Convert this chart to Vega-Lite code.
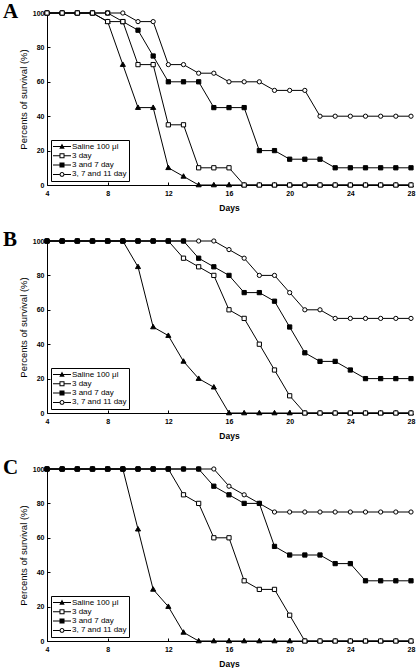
{
  "$schema": "https://vega.github.io/schema/vega-lite/v6.json",
  "background": "white",
  "padding": {"left": 3, "top": 0, "right": 1, "bottom": 1},
  "spacing": 16,
  "datasets": {
    "A": [
      {"day": 4, "Saline 100 μl": 100, "3 day": 100, "3 and 7 day": 100, "3, 7 and 11 day": 100},
      {"day": 5, "Saline 100 μl": 100, "3 day": 100, "3 and 7 day": 100, "3, 7 and 11 day": 100},
      {"day": 6, "Saline 100 μl": 100, "3 day": 100, "3 and 7 day": 100, "3, 7 and 11 day": 100},
      {"day": 7, "Saline 100 μl": 100, "3 day": 100, "3 and 7 day": 100, "3, 7 and 11 day": 100},
      {"day": 8, "Saline 100 μl": 95, "3 day": 95, "3 and 7 day": 100, "3, 7 and 11 day": 100},
      {"day": 9, "Saline 100 μl": 70, "3 day": 95, "3 and 7 day": 95, "3, 7 and 11 day": 100},
      {"day": 10, "Saline 100 μl": 45, "3 day": 70, "3 and 7 day": 90, "3, 7 and 11 day": 95},
      {"day": 11, "Saline 100 μl": 45, "3 day": 70, "3 and 7 day": 75, "3, 7 and 11 day": 95},
      {"day": 12, "Saline 100 μl": 10, "3 day": 35, "3 and 7 day": 60, "3, 7 and 11 day": 70},
      {"day": 13, "Saline 100 μl": 5, "3 day": 35, "3 and 7 day": 60, "3, 7 and 11 day": 70},
      {"day": 14, "Saline 100 μl": 0, "3 day": 10, "3 and 7 day": 60, "3, 7 and 11 day": 65},
      {"day": 15, "Saline 100 μl": 0, "3 day": 10, "3 and 7 day": 45, "3, 7 and 11 day": 65},
      {"day": 16, "Saline 100 μl": 0, "3 day": 10, "3 and 7 day": 45, "3, 7 and 11 day": 60},
      {"day": 17, "Saline 100 μl": 0, "3 day": 0, "3 and 7 day": 45, "3, 7 and 11 day": 60},
      {"day": 18, "Saline 100 μl": 0, "3 day": 0, "3 and 7 day": 20, "3, 7 and 11 day": 60},
      {"day": 19, "Saline 100 μl": 0, "3 day": 0, "3 and 7 day": 20, "3, 7 and 11 day": 55},
      {"day": 20, "Saline 100 μl": 0, "3 day": 0, "3 and 7 day": 15, "3, 7 and 11 day": 55},
      {"day": 21, "Saline 100 μl": 0, "3 day": 0, "3 and 7 day": 15, "3, 7 and 11 day": 55},
      {"day": 22, "Saline 100 μl": 0, "3 day": 0, "3 and 7 day": 15, "3, 7 and 11 day": 40},
      {"day": 23, "Saline 100 μl": 0, "3 day": 0, "3 and 7 day": 10, "3, 7 and 11 day": 40},
      {"day": 24, "Saline 100 μl": 0, "3 day": 0, "3 and 7 day": 10, "3, 7 and 11 day": 40},
      {"day": 25, "Saline 100 μl": 0, "3 day": 0, "3 and 7 day": 10, "3, 7 and 11 day": 40},
      {"day": 26, "Saline 100 μl": 0, "3 day": 0, "3 and 7 day": 10, "3, 7 and 11 day": 40},
      {"day": 27, "Saline 100 μl": 0, "3 day": 0, "3 and 7 day": 10, "3, 7 and 11 day": 40},
      {"day": 28, "Saline 100 μl": 0, "3 day": 0, "3 and 7 day": 10, "3, 7 and 11 day": 40}
    ],
    "B": [
      {"day": 4, "Saline 100 μl": 100, "3 day": 100, "3 and 7 day": 100, "3, 7 and 11 day": 100},
      {"day": 5, "Saline 100 μl": 100, "3 day": 100, "3 and 7 day": 100, "3, 7 and 11 day": 100},
      {"day": 6, "Saline 100 μl": 100, "3 day": 100, "3 and 7 day": 100, "3, 7 and 11 day": 100},
      {"day": 7, "Saline 100 μl": 100, "3 day": 100, "3 and 7 day": 100, "3, 7 and 11 day": 100},
      {"day": 8, "Saline 100 μl": 100, "3 day": 100, "3 and 7 day": 100, "3, 7 and 11 day": 100},
      {"day": 9, "Saline 100 μl": 100, "3 day": 100, "3 and 7 day": 100, "3, 7 and 11 day": 100},
      {"day": 10, "Saline 100 μl": 85, "3 day": 100, "3 and 7 day": 100, "3, 7 and 11 day": 100},
      {"day": 11, "Saline 100 μl": 50, "3 day": 100, "3 and 7 day": 100, "3, 7 and 11 day": 100},
      {"day": 12, "Saline 100 μl": 45, "3 day": 100, "3 and 7 day": 100, "3, 7 and 11 day": 100},
      {"day": 13, "Saline 100 μl": 30, "3 day": 90, "3 and 7 day": 100, "3, 7 and 11 day": 100},
      {"day": 14, "Saline 100 μl": 20, "3 day": 85, "3 and 7 day": 90, "3, 7 and 11 day": 100},
      {"day": 15, "Saline 100 μl": 15, "3 day": 80, "3 and 7 day": 85, "3, 7 and 11 day": 100},
      {"day": 16, "Saline 100 μl": 0, "3 day": 60, "3 and 7 day": 80, "3, 7 and 11 day": 95},
      {"day": 17, "Saline 100 μl": 0, "3 day": 55, "3 and 7 day": 70, "3, 7 and 11 day": 90},
      {"day": 18, "Saline 100 μl": 0, "3 day": 40, "3 and 7 day": 70, "3, 7 and 11 day": 80},
      {"day": 19, "Saline 100 μl": 0, "3 day": 25, "3 and 7 day": 65, "3, 7 and 11 day": 80},
      {"day": 20, "Saline 100 μl": 0, "3 day": 10, "3 and 7 day": 50, "3, 7 and 11 day": 70},
      {"day": 21, "Saline 100 μl": 0, "3 day": 0, "3 and 7 day": 35, "3, 7 and 11 day": 60},
      {"day": 22, "Saline 100 μl": 0, "3 day": 0, "3 and 7 day": 30, "3, 7 and 11 day": 60},
      {"day": 23, "Saline 100 μl": 0, "3 day": 0, "3 and 7 day": 30, "3, 7 and 11 day": 55},
      {"day": 24, "Saline 100 μl": 0, "3 day": 0, "3 and 7 day": 25, "3, 7 and 11 day": 55},
      {"day": 25, "Saline 100 μl": 0, "3 day": 0, "3 and 7 day": 20, "3, 7 and 11 day": 55},
      {"day": 26, "Saline 100 μl": 0, "3 day": 0, "3 and 7 day": 20, "3, 7 and 11 day": 55},
      {"day": 27, "Saline 100 μl": 0, "3 day": 0, "3 and 7 day": 20, "3, 7 and 11 day": 55},
      {"day": 28, "Saline 100 μl": 0, "3 day": 0, "3 and 7 day": 20, "3, 7 and 11 day": 55}
    ],
    "C": [
      {"day": 4, "Saline 100 μl": 100, "3 day": 100, "3 and 7 day": 100, "3, 7 and 11 day": 100},
      {"day": 5, "Saline 100 μl": 100, "3 day": 100, "3 and 7 day": 100, "3, 7 and 11 day": 100},
      {"day": 6, "Saline 100 μl": 100, "3 day": 100, "3 and 7 day": 100, "3, 7 and 11 day": 100},
      {"day": 7, "Saline 100 μl": 100, "3 day": 100, "3 and 7 day": 100, "3, 7 and 11 day": 100},
      {"day": 8, "Saline 100 μl": 100, "3 day": 100, "3 and 7 day": 100, "3, 7 and 11 day": 100},
      {"day": 9, "Saline 100 μl": 100, "3 day": 100, "3 and 7 day": 100, "3, 7 and 11 day": 100},
      {"day": 10, "Saline 100 μl": 65, "3 day": 100, "3 and 7 day": 100, "3, 7 and 11 day": 100},
      {"day": 11, "Saline 100 μl": 30, "3 day": 100, "3 and 7 day": 100, "3, 7 and 11 day": 100},
      {"day": 12, "Saline 100 μl": 20, "3 day": 100, "3 and 7 day": 100, "3, 7 and 11 day": 100},
      {"day": 13, "Saline 100 μl": 5, "3 day": 85, "3 and 7 day": 100, "3, 7 and 11 day": 100},
      {"day": 14, "Saline 100 μl": 0, "3 day": 80, "3 and 7 day": 100, "3, 7 and 11 day": 100},
      {"day": 15, "Saline 100 μl": 0, "3 day": 60, "3 and 7 day": 90, "3, 7 and 11 day": 100},
      {"day": 16, "Saline 100 μl": 0, "3 day": 60, "3 and 7 day": 85, "3, 7 and 11 day": 90},
      {"day": 17, "Saline 100 μl": 0, "3 day": 35, "3 and 7 day": 80, "3, 7 and 11 day": 85},
      {"day": 18, "Saline 100 μl": 0, "3 day": 30, "3 and 7 day": 80, "3, 7 and 11 day": 80},
      {"day": 19, "Saline 100 μl": 0, "3 day": 30, "3 and 7 day": 55, "3, 7 and 11 day": 75},
      {"day": 20, "Saline 100 μl": 0, "3 day": 15, "3 and 7 day": 50, "3, 7 and 11 day": 75},
      {"day": 21, "Saline 100 μl": 0, "3 day": 0, "3 and 7 day": 50, "3, 7 and 11 day": 75},
      {"day": 22, "Saline 100 μl": 0, "3 day": 0, "3 and 7 day": 50, "3, 7 and 11 day": 75},
      {"day": 23, "Saline 100 μl": 0, "3 day": 0, "3 and 7 day": 45, "3, 7 and 11 day": 75},
      {"day": 24, "Saline 100 μl": 0, "3 day": 0, "3 and 7 day": 45, "3, 7 and 11 day": 75},
      {"day": 25, "Saline 100 μl": 0, "3 day": 0, "3 and 7 day": 35, "3, 7 and 11 day": 75},
      {"day": 26, "Saline 100 μl": 0, "3 day": 0, "3 and 7 day": 35, "3, 7 and 11 day": 75},
      {"day": 27, "Saline 100 μl": 0, "3 day": 0, "3 and 7 day": 35, "3, 7 and 11 day": 75},
      {"day": 28, "Saline 100 μl": 0, "3 day": 0, "3 and 7 day": 35, "3, 7 and 11 day": 75}
    ]
  },
  "config": {
    "view": {"stroke": null},
    "axis": {
      "grid": false,
      "domainColor": "black",
      "domainWidth": 1,
      "tickColor": "black",
      "tickWidth": 1,
      "tickSize": -3,
      "labelColor": "black",
      "labelFont": "Liberation Sans",
      "labelFontSize": 7,
      "labelFontWeight": "bold",
      "labelPadding": 6,
      "titleColor": "black",
      "titleFont": "Liberation Sans"
    },
    "axisX": {"titleFontSize": 8.5, "titleFontWeight": "bold", "titlePadding": 6.5, "labelPadding": 7.5, "labelFlush": false},
    "axisY": {"titleFontSize": 9.5, "titleFontWeight": "normal", "titlePadding": 4},
    "title": {
      "anchor": "start",
      "frame": "group",
      "font": "Liberation Serif",
      "fontSize": 21,
      "fontWeight": "bold",
      "color": "black",
      "baseline": "alphabetic",
      "offset": -13.5,
      "dx": -44
    },
    "legend": {
      "orient": "bottom-left",
      "offset": 4,
      "padding": 2,
      "rowPadding": 0.3,
      "clipHeight": 9,
      "labelFont": "Liberation Sans",
      "labelFontSize": 8,
      "labelColor": "black",
      "labelOffset": 1,
      "strokeColor": "black",
      "fillColor": "white",
      "symbolSize": 324,
      "symbolStrokeWidth": 0
    }
  },
  "resolve": {
    "scale": {"shape": "independent", "fill": "independent"},
    "legend": {"shape": "independent", "fill": "independent"}
  },
  "vconcat": [
    {
      "width": 364,
      "height": 172,
      "title": {"text": "A"},
      "encoding": {
        "x": {"field": "day", "type": "quantitative", "scale": {"domain": [4, 28], "nice": false}, "axis": {"values": [4, 8, 12, 16, 20, 24, 28], "title": "Days"}},
        "y": {"field": "pct", "type": "quantitative", "scale": {"domain": [0, 100], "nice": false}, "axis": {"values": [0, 20, 40, 60, 80, 100], "title": "Percents of survival (%)"}}
      },
      "resolve": {"scale": {"shape": "independent", "fill": "independent"}, "legend": {"shape": "independent", "fill": "independent"}},
      "layer": [
        {
          "data": {"name": "A"},
          "transform": [{"fold": ["Saline 100 μl", "3 and 7 day", "3, 7 and 11 day", "3 day"], "as": ["series", "pct"]}],
          "mark": {"type": "line", "color": "black", "strokeWidth": 1},
          "encoding": {"detail": {"field": "series"}}
        },
        {
          "data": {"name": "A"},
          "transform": [{"fold": ["Saline 100 μl", "3 and 7 day", "3, 7 and 11 day", "3 day"], "as": ["series", "pct"]}],
          "mark": {"type": "point", "filled": true, "stroke": "black", "strokeWidth": 1, "size": 18, "opacity": 1},
          "encoding": {
            "shape": {"field": "series", "type": "nominal", "legend": null,
              "scale": {"domain": ["Saline 100 μl", "3 day", "3 and 7 day", "3, 7 and 11 day"], "range": ["M0,-1.25L1.2,0.85L-1.2,0.85Z", "M-1,-1L1,-1L1,1L-1,1Z", "M-1,-1L1,-1L1,1L-1,1Z", "circle"]}},
            "fill": {"field": "series", "type": "nominal", "legend": null,
              "scale": {"domain": ["Saline 100 μl", "3 day", "3 and 7 day", "3, 7 and 11 day"], "range": ["black", "white", "black", "white"]}}
          }
        },
        {
          "data": {"name": "A"},
          "transform": [{"fold": ["Saline 100 μl", "3 and 7 day", "3, 7 and 11 day", "3 day"], "as": ["series", "pct"]}, {"filter": "datum.day < 0"}],
          "mark": {"type": "point", "filled": true, "color": "black", "strokeWidth": 0, "opacity": 1},
          "encoding": {
            "shape": {"field": "series", "type": "nominal", "legend": {"title": null, "strokeColor": "black", "fillColor": "white"},
              "scale": {"domain": ["Saline 100 μl", "3 day", "3 and 7 day", "3, 7 and 11 day"], "range": [
                "M-1,-0.055L1,-0.055L1,0.055L-1,0.055ZM0,-0.32L0.3,0.24L-0.3,0.24Z",
                "M-1,-0.055L-0.28,-0.055L-0.28,0.055L-1,0.055ZM0.28,-0.055L1,-0.055L1,0.055L0.28,0.055ZM-0.28,-0.28L0.28,-0.28L0.28,0.28L-0.28,0.28ZM-0.17,-0.17L-0.17,0.17L0.17,0.17L0.17,-0.17Z",
                "M-1,-0.055L1,-0.055L1,0.055L-1,0.055ZM-0.28,-0.28L0.28,-0.28L0.28,0.28L-0.28,0.28Z",
                "M-1,-0.055L-0.27,-0.055L-0.27,0.055L-1,0.055ZM0.27,-0.055L1,-0.055L1,0.055L0.27,0.055ZM-0.27,0A0.27,0.27,0,1,1,0.27,0A0.27,0.27,0,1,1,-0.27,0ZM-0.16,0A0.16,0.16,0,1,0,0.16,0A0.16,0.16,0,1,0,-0.16,0Z"]}}
          }
        }
      ]
    },
    {
      "width": 364,
      "height": 172,
      "title": {"text": "B"},
      "encoding": {
        "x": {"field": "day", "type": "quantitative", "scale": {"domain": [4, 28], "nice": false}, "axis": {"values": [4, 8, 12, 16, 20, 24, 28], "title": "Days"}},
        "y": {"field": "pct", "type": "quantitative", "scale": {"domain": [0, 100], "nice": false}, "axis": {"values": [0, 20, 40, 60, 80, 100], "title": "Percents of survival (%)"}}
      },
      "resolve": {"scale": {"shape": "independent", "fill": "independent"}, "legend": {"shape": "independent", "fill": "independent"}},
      "layer": [
        {
          "data": {"name": "B"},
          "transform": [{"fold": ["Saline 100 μl", "3 day", "3, 7 and 11 day", "3 and 7 day"], "as": ["series", "pct"]}],
          "mark": {"type": "line", "color": "black", "strokeWidth": 1},
          "encoding": {"detail": {"field": "series"}}
        },
        {
          "data": {"name": "B"},
          "transform": [{"fold": ["Saline 100 μl", "3 day", "3, 7 and 11 day", "3 and 7 day"], "as": ["series", "pct"]}],
          "mark": {"type": "point", "filled": true, "stroke": "black", "strokeWidth": 1, "size": 18, "opacity": 1},
          "encoding": {
            "shape": {"field": "series", "type": "nominal", "legend": null,
              "scale": {"domain": ["Saline 100 μl", "3 day", "3 and 7 day", "3, 7 and 11 day"], "range": ["M0,-1.25L1.2,0.85L-1.2,0.85Z", "M-1,-1L1,-1L1,1L-1,1Z", "M-1,-1L1,-1L1,1L-1,1Z", "circle"]}},
            "fill": {"field": "series", "type": "nominal", "legend": null,
              "scale": {"domain": ["Saline 100 μl", "3 day", "3 and 7 day", "3, 7 and 11 day"], "range": ["black", "white", "black", "white"]}}
          }
        },
        {
          "data": {"name": "B"},
          "transform": [{"fold": ["Saline 100 μl", "3 day", "3, 7 and 11 day", "3 and 7 day"], "as": ["series", "pct"]}, {"filter": "datum.day < 0"}],
          "mark": {"type": "point", "filled": true, "color": "black", "strokeWidth": 0, "opacity": 1},
          "encoding": {
            "shape": {"field": "series", "type": "nominal", "legend": {"title": null, "strokeColor": "black", "fillColor": "white"},
              "scale": {"domain": ["Saline 100 μl", "3 day", "3 and 7 day", "3, 7 and 11 day"], "range": [
                "M-1,-0.055L1,-0.055L1,0.055L-1,0.055ZM0,-0.32L0.3,0.24L-0.3,0.24Z",
                "M-1,-0.055L-0.28,-0.055L-0.28,0.055L-1,0.055ZM0.28,-0.055L1,-0.055L1,0.055L0.28,0.055ZM-0.28,-0.28L0.28,-0.28L0.28,0.28L-0.28,0.28ZM-0.17,-0.17L-0.17,0.17L0.17,0.17L0.17,-0.17Z",
                "M-1,-0.055L1,-0.055L1,0.055L-1,0.055ZM-0.28,-0.28L0.28,-0.28L0.28,0.28L-0.28,0.28Z",
                "M-1,-0.055L-0.27,-0.055L-0.27,0.055L-1,0.055ZM0.27,-0.055L1,-0.055L1,0.055L0.27,0.055ZM-0.27,0A0.27,0.27,0,1,1,0.27,0A0.27,0.27,0,1,1,-0.27,0ZM-0.16,0A0.16,0.16,0,1,0,0.16,0A0.16,0.16,0,1,0,-0.16,0Z"]}}
          }
        }
      ]
    },
    {
      "width": 364,
      "height": 172,
      "title": {"text": "C"},
      "encoding": {
        "x": {"field": "day", "type": "quantitative", "scale": {"domain": [4, 28], "nice": false}, "axis": {"values": [4, 8, 12, 16, 20, 24, 28], "title": "Days"}},
        "y": {"field": "pct", "type": "quantitative", "scale": {"domain": [0, 100], "nice": false}, "axis": {"values": [0, 20, 40, 60, 80, 100], "title": "Percents of survival (%)"}}
      },
      "resolve": {"scale": {"shape": "independent", "fill": "independent"}, "legend": {"shape": "independent", "fill": "independent"}},
      "layer": [
        {
          "data": {"name": "C"},
          "transform": [{"fold": ["Saline 100 μl", "3 day", "3, 7 and 11 day", "3 and 7 day"], "as": ["series", "pct"]}],
          "mark": {"type": "line", "color": "black", "strokeWidth": 1},
          "encoding": {"detail": {"field": "series"}}
        },
        {
          "data": {"name": "C"},
          "transform": [{"fold": ["Saline 100 μl", "3 day", "3, 7 and 11 day", "3 and 7 day"], "as": ["series", "pct"]}],
          "mark": {"type": "point", "filled": true, "stroke": "black", "strokeWidth": 1, "size": 18, "opacity": 1},
          "encoding": {
            "shape": {"field": "series", "type": "nominal", "legend": null,
              "scale": {"domain": ["Saline 100 μl", "3 day", "3 and 7 day", "3, 7 and 11 day"], "range": ["M0,-1.25L1.2,0.85L-1.2,0.85Z", "M-1,-1L1,-1L1,1L-1,1Z", "M-1,-1L1,-1L1,1L-1,1Z", "circle"]}},
            "fill": {"field": "series", "type": "nominal", "legend": null,
              "scale": {"domain": ["Saline 100 μl", "3 day", "3 and 7 day", "3, 7 and 11 day"], "range": ["black", "white", "black", "white"]}}
          }
        },
        {
          "data": {"name": "C"},
          "transform": [{"fold": ["Saline 100 μl", "3 day", "3, 7 and 11 day", "3 and 7 day"], "as": ["series", "pct"]}, {"filter": "datum.day < 0"}],
          "mark": {"type": "point", "filled": true, "color": "black", "strokeWidth": 0, "opacity": 1},
          "encoding": {
            "shape": {"field": "series", "type": "nominal", "legend": {"title": null, "strokeColor": "black", "fillColor": "white"},
              "scale": {"domain": ["Saline 100 μl", "3 day", "3 and 7 day", "3, 7 and 11 day"], "range": [
                "M-1,-0.055L1,-0.055L1,0.055L-1,0.055ZM0,-0.32L0.3,0.24L-0.3,0.24Z",
                "M-1,-0.055L-0.28,-0.055L-0.28,0.055L-1,0.055ZM0.28,-0.055L1,-0.055L1,0.055L0.28,0.055ZM-0.28,-0.28L0.28,-0.28L0.28,0.28L-0.28,0.28ZM-0.17,-0.17L-0.17,0.17L0.17,0.17L0.17,-0.17Z",
                "M-1,-0.055L1,-0.055L1,0.055L-1,0.055ZM-0.28,-0.28L0.28,-0.28L0.28,0.28L-0.28,0.28Z",
                "M-1,-0.055L-0.27,-0.055L-0.27,0.055L-1,0.055ZM0.27,-0.055L1,-0.055L1,0.055L0.27,0.055ZM-0.27,0A0.27,0.27,0,1,1,0.27,0A0.27,0.27,0,1,1,-0.27,0ZM-0.16,0A0.16,0.16,0,1,0,0.16,0A0.16,0.16,0,1,0,-0.16,0Z"]}}
          }
        }
      ]
    }
  ]
}
